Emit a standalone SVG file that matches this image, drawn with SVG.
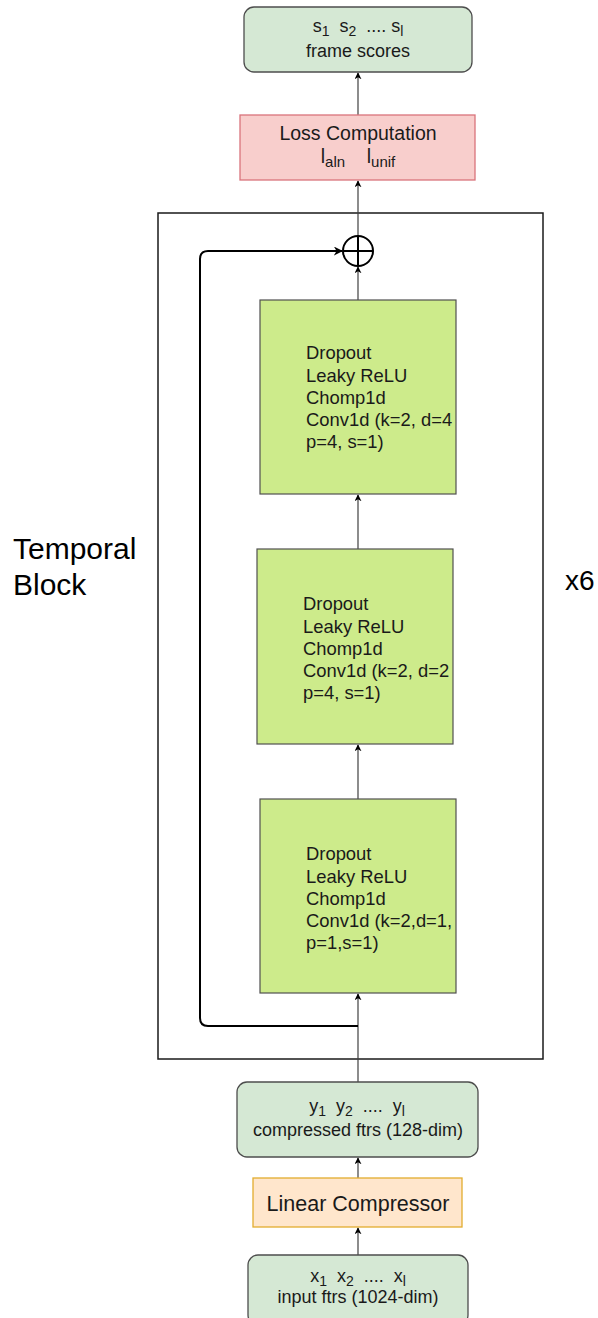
<svg xmlns="http://www.w3.org/2000/svg" width="598" height="1318" viewBox="0 0 598 1318">
  <defs>
    <marker id="arrow" viewBox="0 0 10 10" refX="9" refY="5" markerWidth="7" markerHeight="7" orient="auto" markerUnits="userSpaceOnUse">
      <path d="M0,0 L10,5 L0,10 L3,5 Z" fill="#000"/>
    </marker>
    <marker id="arrowBold" viewBox="0 0 10 10" refX="9" refY="5" markerWidth="9" markerHeight="9" orient="auto" markerUnits="userSpaceOnUse">
      <path d="M0,0 L10,5 L0,10 L3,5 Z" fill="#000"/>
    </marker>
  </defs>
  <style>
    text { font-family: "Liberation Sans", Arial, sans-serif; fill: #1a1a1a; white-space: pre; }
    .io { fill: #d5e8d4; stroke: #4d4d4d; stroke-width: 1.3; }
    .loss { fill: #f8cecc; stroke: #d9737c; stroke-width: 1.3; }
    .lin { fill: #ffe6cc; stroke: #e2ad2e; stroke-width: 1.3; }
    .conv { fill: #cdeb8b; stroke: #505050; stroke-width: 1.2; }
    .frame { fill: none; stroke: #1a1a1a; stroke-width: 1.5; }
    .edge { fill: none; stroke: #404040; stroke-width: 1.2; }
    .skip { fill: none; stroke: #000; stroke-width: 2; }
    .t18 { font-size: 18px; }
    .blk { font-size: 18.4px; }
    .big { font-size: 30px; fill: #000; }
    .sub { font-size: 14px; }
  </style>
  <rect width="598" height="1318" fill="#fff"/>

  <!-- outer temporal block frame -->
  <g id="temporal-block">
    <rect class="frame" x="158" y="213" width="385" height="846"/>
    <text class="big" x="13" y="559">Temporal</text>
    <text class="big" x="13" y="595">Block</text>
    <text class="big" x="565" y="590" style="font-size:28px">x6</text>
  </g>

  <!-- connectors -->
  <g id="connectors">
    <line class="edge" x1="358" y1="115" x2="358" y2="73" marker-end="url(#arrow)"/>
    <line class="edge" x1="358" y1="236" x2="358" y2="181" marker-end="url(#arrow)"/>
    <line class="edge" x1="358" y1="300" x2="358" y2="267" marker-end="url(#arrow)"/>
    <line class="edge" x1="358" y1="549" x2="358" y2="495" marker-end="url(#arrow)"/>
    <line class="edge" x1="358" y1="799" x2="358" y2="745" marker-end="url(#arrow)"/>
    <line class="edge" x1="358" y1="1082" x2="358" y2="994" marker-end="url(#arrow)"/>
    <line class="edge" x1="358" y1="1178" x2="358" y2="1158" marker-end="url(#arrow)"/>
    <line class="edge" x1="358" y1="1255" x2="358" y2="1228" marker-end="url(#arrow)"/>
    <path class="skip" d="M358,1026 L208,1026 Q200,1026 200,1018 L200,259 Q200,251 208,251 L342,251" marker-end="url(#arrowBold)"/>
  </g>

  <!-- residual sum -->
  <g id="sum">
    <circle cx="358" cy="251" r="15" fill="#fff" stroke="#000" stroke-width="2"/>
    <line x1="343" y1="251" x2="373" y2="251" stroke="#000" stroke-width="2"/>
    <line x1="358" y1="236" x2="358" y2="266" stroke="#000" stroke-width="2"/>
  </g>

  <g id="frame-scores">
    <rect class="io" x="244" y="7" width="228" height="65" rx="10"/>
    <text class="t18" x="358" y="32" text-anchor="middle" xml:space="preserve">s<tspan class="sub" dy="4">1</tspan><tspan dy="-4">  s</tspan><tspan class="sub" dy="4">2</tspan><tspan dy="-4">  .... s</tspan><tspan class="sub" dy="4">l</tspan></text>
    <text class="t18" x="358" y="57" text-anchor="middle">frame scores</text>
  </g>

  <g id="loss">
    <rect class="loss" x="240" y="115" width="235" height="65"/>
    <text x="358" y="140" text-anchor="middle" style="font-size:19.5px">Loss Computation</text>
    <text x="358" y="163" text-anchor="middle" style="font-size:19.5px" xml:space="preserve">l<tspan class="sub" dy="4" style="font-size:15px">aln</tspan><tspan dy="-4">    l</tspan><tspan class="sub" dy="4" style="font-size:15px">unif</tspan></text>
  </g>

  <g id="conv-block-3">
    <rect class="conv" x="260" y="300" width="196" height="194"/>
    <text class="blk" x="306" y="359">Dropout</text>
    <text class="blk" x="306" y="382">Leaky ReLU</text>
    <text class="blk" x="306" y="404">Chomp1d</text>
    <text class="blk" x="306" y="426">Conv1d (k=2, d=4</text>
    <text class="blk" x="306" y="448">p=4, s=1)</text>
  </g>

  <g id="conv-block-2">
    <rect class="conv" x="257" y="549" width="196" height="195"/>
    <text class="blk" x="303" y="610">Dropout</text>
    <text class="blk" x="303" y="633">Leaky ReLU</text>
    <text class="blk" x="303" y="655">Chomp1d</text>
    <text class="blk" x="303" y="677">Conv1d (k=2, d=2</text>
    <text class="blk" x="303" y="699">p=4, s=1)</text>
  </g>

  <g id="conv-block-1">
    <rect class="conv" x="260" y="799" width="196" height="194"/>
    <text class="blk" x="306" y="860">Dropout</text>
    <text class="blk" x="306" y="883">Leaky ReLU</text>
    <text class="blk" x="306" y="905">Chomp1d</text>
    <text class="blk" x="306" y="927">Conv1d (k=2,d=1,</text>
    <text class="blk" x="306" y="949">p=1,s=1)</text>
  </g>

  <g id="compressed">
    <rect class="io" x="237" y="1082" width="241" height="75" rx="10"/>
    <text class="t18" x="357" y="1112" text-anchor="middle" xml:space="preserve">y<tspan class="sub" dy="4">1</tspan><tspan dy="-4">  y</tspan><tspan class="sub" dy="4">2</tspan><tspan dy="-4">  ....  y</tspan><tspan class="sub" dy="4">l</tspan></text>
    <text class="t18" x="358" y="1136" text-anchor="middle">compressed ftrs (128-dim)</text>
  </g>

  <g id="linear-compressor">
    <rect class="lin" x="253" y="1178" width="209" height="49"/>
    <text x="358" y="1211" text-anchor="middle" style="font-size:21.5px">Linear Compressor</text>
  </g>

  <g id="input">
    <rect class="io" x="248" y="1255" width="220" height="70" rx="10"/>
    <text class="t18" x="358" y="1282" text-anchor="middle" xml:space="preserve">x<tspan class="sub" dy="4">1</tspan><tspan dy="-4">  x</tspan><tspan class="sub" dy="4">2</tspan><tspan dy="-4">  ....  x</tspan><tspan class="sub" dy="4">l</tspan></text>
    <text class="t18" x="358" y="1303" text-anchor="middle">input ftrs (1024-dim)</text>
  </g>
</svg>
